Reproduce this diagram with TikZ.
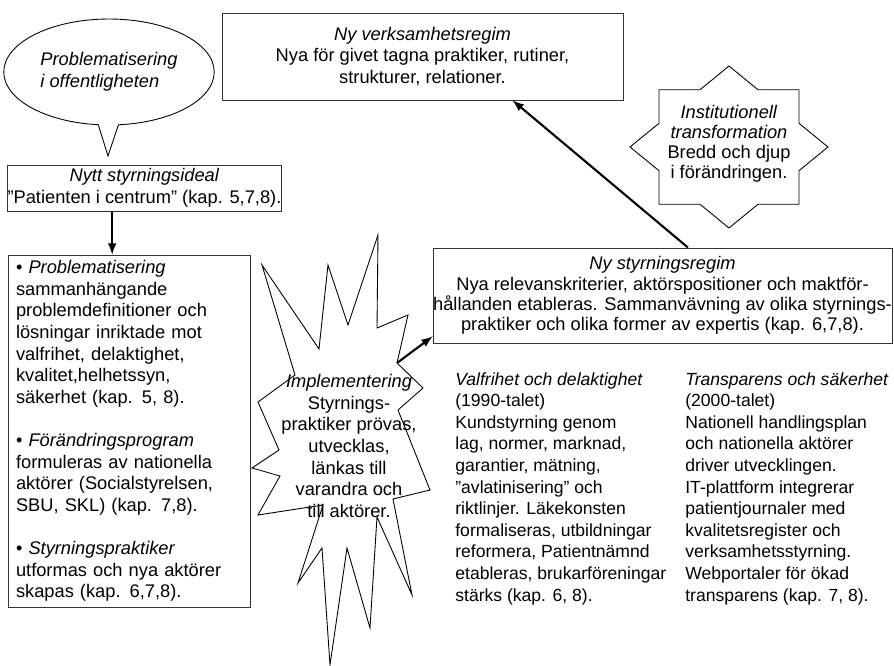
\documentclass[tikz,border=0pt]{standalone}
\usepackage{fontspec}
\setmainfont{Liberation Sans}
\usetikzlibrary{shapes.callouts}
\begin{document}
\begin{tikzpicture}[x=0.02cm, y=-0.02cm,
  every node/.style={font=\fontsize{10.4}{12.3}\selectfont},
  box/.style={draw=black!80, line width=0.5pt, fill=white, inner sep=0pt},
  shapeline/.style={draw=black, line width=0.5pt, fill=white},
  column/.style={anchor=north west, align=left, inner sep=0pt, font=\fontsize{10}{12.3}\selectfont},
  arrow/.style={draw, line width=1.2pt, -latex}]
\useasboundingbox (0,0) rectangle (894,666);
% speech bubble and ideal
\node[ellipse callout, shapeline, minimum width=3.76cm, minimum height=2.12cm,
  callout absolute pointer={(108,156)}, callout pointer arc=11, align=left,
  font=\fontsize{10.4}{12.3}\selectfont\itshape] (bubble) at (109,72) {Problematisering\\i offentligheten};
\node[box, minimum width=5.46cm, minimum height=0.92cm, align=center] (ideal) at (144.5,188)
  {\textit{Nytt styrningsideal}\\”Patienten i centrum” (kap. 5,7,8).};
% top box
\node[box, minimum width=8.02cm, minimum height=1.74cm, align=center] (verk) at (422.5,56.5)
  {\textit{Ny verksamhetsregim}\\Nya för givet tagna praktiker, rutiner,\\strukturer, relationer.};
% star
\draw[shapeline] plot[samples at={0,22.5,...,337.5}]
  ({729+99*(1-0.235*mod(round(\x/22.5),2))*cos(\x)}, {147-81*(1-0.235*mod(round(\x/22.5),2))*sin(\x)}) -- cycle;
\node[align=center, font=\fontsize{10.4}{11.4}\selectfont] (trans) at (729,144)
  {\textit{Institutionell}\\\textit{transformation}\\Bredd och djup\\i förändringen.};
% explosion
\draw[shapeline] (262,265) -- (319,349) -- (328,265) -- (348,325) -- (378,235) -- (377,328)
  -- (408,315) -- (397,363) -- (423,388) -- (398,410) -- (430,490) -- (393,499) -- (412,595)
  -- (377,517) -- (370,628) -- (347,548) -- (330,665) -- (322,548) -- (298,583) -- (323,505)
  -- (258,515) -- (280,476) -- (252,468) -- (279,450) -- (258,402) -- (295,375) -- cycle;
\coordinate (implTop) at (397,363);
\node[align=center] (impl) at (349,446) {\textit{Implementering}\\Styrnings-\\praktiker prövas,\\utvecklas,\\länkas till\\varandra och\\till aktörer.};
% left box
\node[box, minimum width=4.84cm, minimum height=7.04cm, text width=4.52cm, align=left] (prob) at (129,431)
  {• \textit{Problematisering}\\sammanhängande\\problemdefinitioner och\\lösningar inriktade mot\\valfrihet, delaktighet,\\kvalitet,helhetssyn,\\säkerhet (kap. 5, 8).\\[12.3pt]
   • \textit{Förändringsprogram}\\formuleras av nationella\\aktörer (Socialstyrelsen,\\SBU, SKL) (kap. 7,8).\\[12.3pt]
   • \textit{Styrningspraktiker}\\utformas och nya aktörer\\skapas (kap. 6,7,8).};
% regime box
\node[box, minimum width=9.18cm, minimum height=1.9cm, align=center, font=\fontsize{10.4}{11.6}\selectfont] (regim) at (662.5,295.5)
  {\textit{Ny styrningsregim}\\Nya relevanskriterier, aktörspositioner och maktför-\\hållanden etableras. Sammanvävning av olika styrnings-\\praktiker och olika former av expertis (kap. 6,7,8).};
% text columns
\node[column] (valfrihet) at (455,372)
  {\textit{Valfrihet och delaktighet}\\(1990-talet)\\Kundstyrning genom\\lag, normer, marknad,\\garantier, mätning,\\”avlatinisering” och\\riktlinjer. Läkekonsten\\formaliseras, utbildningar\\reformera, Patientnämnd\\etableras, brukarföreningar\\stärks (kap. 6, 8).};
\node[column] (transparens) at (685,372)
  {\textit{Transparens och säkerhet}\\(2000-talet)\\Nationell handlingsplan\\och nationella aktörer\\driver utvecklingen.\\IT-plattform integrerar\\patientjournaler med\\kvalitetsregister och\\verksamhetsstyrning.\\Webportaler för ökad\\transparens (kap. 7, 8).};
% arrows
\path[arrow] ([xshift=-18.4pt]ideal.south) -- ([xshift=-18.4pt]ideal.south |- prob.north);
\path[arrow] (implTop) -- ([yshift=4pt]regim.south west);
\path[arrow] ([xshift=14.5pt]regim.north) -- ([xshift=51.3pt]verk.south);
\end{tikzpicture}
\end{document}
